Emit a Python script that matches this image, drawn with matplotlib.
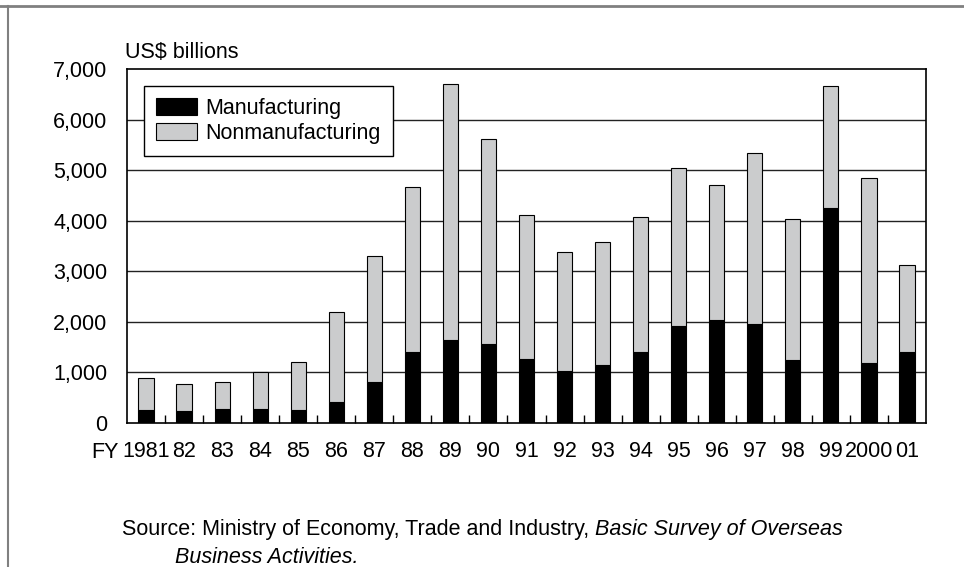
import matplotlib
matplotlib.use("Agg")
import matplotlib.pyplot as plt
from matplotlib.lines import Line2D
from matplotlib.patches import Patch
import numpy as np

plt.rcParams['font.family'] = ['Liberation Sans', 'DejaVu Sans']

years = ["1981", "82", "83", "84", "85", "86", "87", "88", "89", "90", "91",
         "92", "93", "94", "95", "96", "97", "98", "99", "2000", "01"]
manufacturing = [263, 230, 283, 270, 263, 408, 810, 1402, 1646, 1567, 1257,
                 1027, 1139, 1402, 1916, 2034, 1949, 1244, 4246, 1192, 1402]
nonmanufacturing = [626, 540, 527, 737, 942, 1784, 2495, 3259, 5049, 4049, 2864,
                    2363, 2449, 2680, 3133, 2680, 3397, 2798, 2410, 3647, 1732]
yticks = [0, 1000, 2000, 3000, 4000, 5000, 6000, 7000]

FS = 15.5
fig = plt.figure(figsize=(9.64, 5.67), dpi=100)
ax = fig.add_axes([127/964, 1 - 423/567, (926 - 127)/964, (423 - 69)/567])

x = np.arange(len(years))
gray = "#cbcccd"
ax.bar(x, manufacturing, width=0.4, color="black", edgecolor="black", linewidth=0.8, zorder=3)
ax.bar(x, nonmanufacturing, width=0.4, bottom=manufacturing, color=gray,
       edgecolor="black", linewidth=0.8, zorder=3)

ax.set_xlim(-0.5, len(years) - 0.5)
ax.set_ylim(0, 7000)
ax.set_yticks(yticks)
ax.set_yticklabels([f"{v:,}" for v in yticks], fontsize=FS)
ax.tick_params(axis='y', length=0, pad=14)
for v in yticks[1:-1]:
    ax.axhline(v, color="#222222", linewidth=1.0, zorder=1)

ax.set_xticks(x)
ax.set_xticklabels(years, fontsize=FS)
ax.tick_params(axis='x', which='major', length=0, pad=13)
ax.set_xticks(np.arange(len(years) - 1) + 0.5, minor=True)
ax.tick_params(axis='x', which='minor', direction='in', length=6, width=1, color='black')

for s in ax.spines.values():
    s.set_color("black")
    s.set_linewidth(1.2)

fig.text(91/964, 1 - 452/567, "FY", fontsize=FS, ha='left', va='center')
fig.text(125/964, 1 - 52/567, "US$ billions", fontsize=FS, ha='left', va='center')

handles = [Patch(facecolor="black", edgecolor="black", linewidth=0.8, label="Manufacturing"),
           Patch(facecolor=gray, edgecolor="black", linewidth=0.8, label="Nonmanufacturing")]
leg = ax.legend(handles=handles, loc='upper left', bbox_to_anchor=(17/799, 1 - 17/354),
                fontsize=FS, frameon=True, fancybox=False, edgecolor="black",
                framealpha=1, borderpad=0.55, handlelength=1.9, handleheight=0.85,
                handletextpad=0.4, labelspacing=0.2, borderaxespad=0)
leg.get_frame().set_linewidth(1.0)
leg.set_zorder(5)

t1 = fig.text(122/964, 1 - 535/567, "Source: Ministry of Economy, Trade and Industry, ",
              fontsize=FS, ha='left', va='baseline')
ax.annotate("Basic Survey of Overseas", xy=(1, 0), xycoords=t1,
            ha='left', va='bottom', fontsize=FS, style='italic',
            annotation_clip=False)
fig.text(175/964, 1 - 563/567, "Business Activities.", fontsize=FS,
         style='italic', ha='left', va='baseline')

# outer frame lines (top and left)
fig.add_artist(Line2D([0, 1], [1 - 6/567, 1 - 6/567], transform=fig.transFigure,
                      color="#808080", linewidth=2))
fig.add_artist(Line2D([8/964, 8/964], [0, 1 - 6/567], transform=fig.transFigure,
                      color="#808080", linewidth=1.5))

fig.savefig("out.png", dpi=100)
